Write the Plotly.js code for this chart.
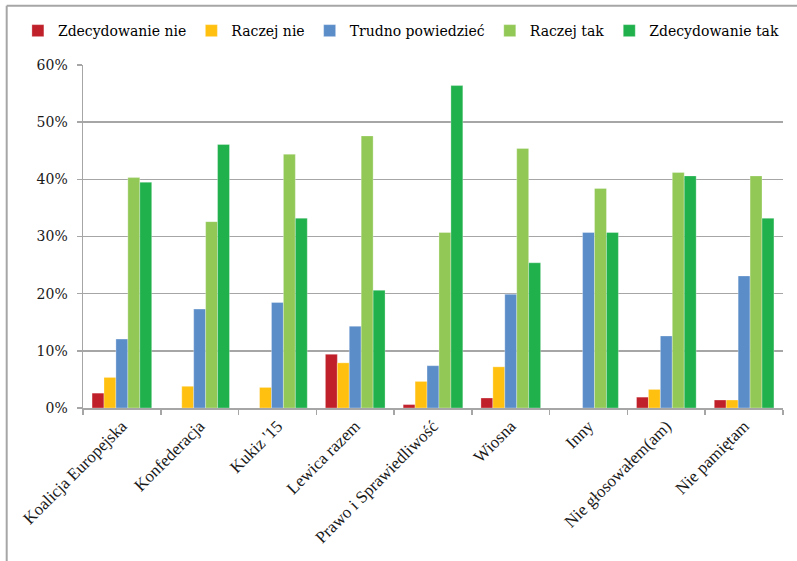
<!DOCTYPE html>
<html>
<head>
<meta charset="utf-8">
<script src="https://cdn.plot.ly/plotly-3.0.1.min.js"></script>
<style>
html,body{margin:0;padding:0;background:#fff;}
#chart{width:797px;height:561px;}
</style>
</head>
<body>
<div id="chart"></div>
<script>
var categories = ["Koalicja Europejska", "Konfederacja", "Kukiz '15", "Lewica razem", "Prawo i Sprawiedliwość", "Wiosna", "Inny", "Nie głosowałem(am)", "Nie pamiętam"];
var seriesNames = ["Zdecydowanie nie", "Raczej nie", "Trudno powiedzieć", "Raczej tak", "Zdecydowanie tak"];
var zdecydowanieNie = [2.6, 0, 0, 9.4, 0.6, 1.75, 0, 1.9, 1.4];
var raczejNie = [5.35, 3.8, 3.6, 7.9, 4.65, 7.2, 0, 3.25, 1.4];
var trudnoPowiedziec = [12.05, 17.3, 18.45, 14.3, 7.4, 19.9, 30.7, 12.6, 23.1];
var raczejTak = [40.3, 32.6, 44.4, 47.6, 30.7, 45.4, 38.4, 41.2, 40.6];
var zdecydowanieTak = [39.5, 46.1, 33.2, 20.6, 56.4, 25.4, 30.7, 40.6, 33.2];
var yTickVals = [0, 10, 20, 30, 40, 50, 60];
var yTickText = ["0%", "10%", "20%", "30%", "40%", "50%", "60%"];

var seriesValues = [zdecydowanieNie, raczejNie, trudnoPowiedziec, raczejTak, zdecydowanieTak];
var colors = ["#C0202A", "#FFC010", "#5B8DC9", "#92C856", "#20B14C"];

var traces = seriesNames.map(function(name, i) {
  return {
    type: "bar",
    name: name,
    x: categories,
    y: seriesValues[i],
    marker: {color: colors[i], line: {color: "rgba(255,255,255,0.6)", width: 0.5}},
    hoverinfo: "x+y+name"
  };
});

var axisGray = "#A6A6A6";
var fontFam = "Liberation Serif";
var flatFont = "DejaVu Serif";

var layout = {
  width: 797,
  height: 561,
  margin: {l: 83, r: 14, t: 65, b: 152.5, pad: 0},
  paper_bgcolor: "#fff",
  plot_bgcolor: "#fff",
  font: {family: fontFam, size: 17, color: "#000"},
  barmode: "group",
  bargap: 0.233,
  bargroupgap: 0,
  showlegend: true,
  legend: {
    orientation: "h",
    x: -0.093,
    xanchor: "left",
    y: 1.099,
    yanchor: "middle",
    font: {family: flatFont, size: 14, color: "#000"},
    itemwidth: 30,
    bgcolor: "rgba(0,0,0,0)"
  },
  xaxis: {
    type: "category",
    showline: true,
    linecolor: axisGray,
    linewidth: 1.5,
    ticks: "outside",
    tickson: "boundaries",
    ticklen: 5,
    tickcolor: axisGray,
    tickwidth: 1.5,
    tickangle: -45,
    tickfont: {family: fontFam, size: 17, color: "#1a1a1a"},
    showgrid: false,
    zeroline: false
  },
  yaxis: {
    range: [0, 60],
    tickmode: "array",
    tickvals: yTickVals,
    ticktext: yTickText,
    showline: true,
    linecolor: axisGray,
    linewidth: 1.5,
    ticks: "outside",
    ticklen: 5,
    tickcolor: axisGray,
    tickwidth: 1.5,
    showgrid: true,
    gridcolor: axisGray,
    gridwidth: 1.5,
    zeroline: false,
    ticklabelstandoff: 6,
    tickfont: {family: flatFont, size: 14, color: "#1a1a1a"}
  },
  shapes: [
    {type: "line", xref: "paper", yref: "paper", x0: -0.109, x1: 1.03, y0: 1.173, y1: 1.173, line: {color: "#A6A6A6", width: 2}},
    {type: "line", xref: "paper", yref: "paper", x0: -0.109, x1: -0.109, y0: 1.173, y1: -0.45, line: {color: "#A6A6A6", width: 2}}
  ]
};

Plotly.newPlot("chart", traces, layout, {displayModeBar: false, staticPlot: true});
</script>
</body>
</html>
